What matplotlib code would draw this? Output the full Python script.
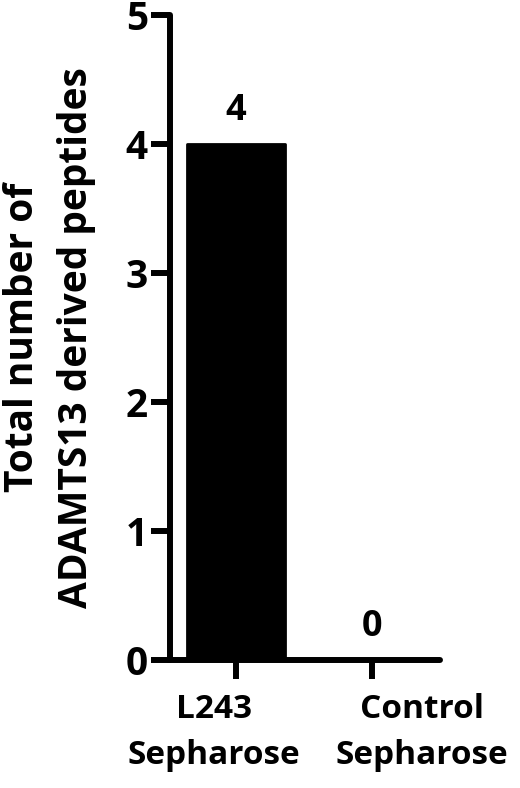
import matplotlib
matplotlib.use("Agg")
import matplotlib.pyplot as plt
from matplotlib import transforms

# Data
categories = ['L243\nSepharose', 'Control\nSepharose']
peptides = [4, 0]
yticks = [0, 1, 2, 3, 4, 5]

plt.rcParams['font.family'] = ['Open Sans', 'DejaVu Sans']
plt.rcParams['font.weight'] = 'bold'

fig = plt.figure(figsize=(5.2, 7.88), dpi=100)
ax = fig.add_axes([0.327, 0.1624, 0.519, 0.8186])

x = list(range(len(categories)))
ax.bar(x, peptides, width=0.72, color='black', edgecolor='black',
       linewidth=2, joinstyle='round')
for xi, v in zip(x, peptides):
    ax.text(xi, v + 0.12, str(v), ha='center', va='bottom',
            fontsize=26, fontweight='bold')

ax.set_xlim(-0.485, 1.5)
ax.set_ylim(0, 5)
ax.set_yticks(yticks)
ax.set_xticks(x)
ax.set_xticklabels([])
ax.tick_params(axis='y', labelsize=28, width=4.3, length=14, pad=2)
ax.tick_params(axis='x', width=4.3, length=14)

# category labels sit a bit off their ticks in the original
shifts = [-22, 50]
for xi, lab, dx in zip(x, categories, shifts):
    tr = transforms.offset_copy(ax.get_xaxis_transform(), fig=fig, x=dx, y=-33, units='dots')
    ax.text(xi, 0, lab, transform=tr, ha='center', va='top', fontsize=24,
            fontweight='bold', linespacing=1.52)

for s in ['top', 'right']:
    ax.spines[s].set_visible(False)
for s in ['left', 'bottom']:
    ax.spines[s].set_linewidth(4.3)
    ax.spines[s].set_capstyle('round')

ax.set_ylabel('Total number of\nADAMTS13 derived peptides', fontsize=28,
              fontweight='bold', labelpad=21, linespacing=1.5)

fig.savefig('out.png', dpi=100)
